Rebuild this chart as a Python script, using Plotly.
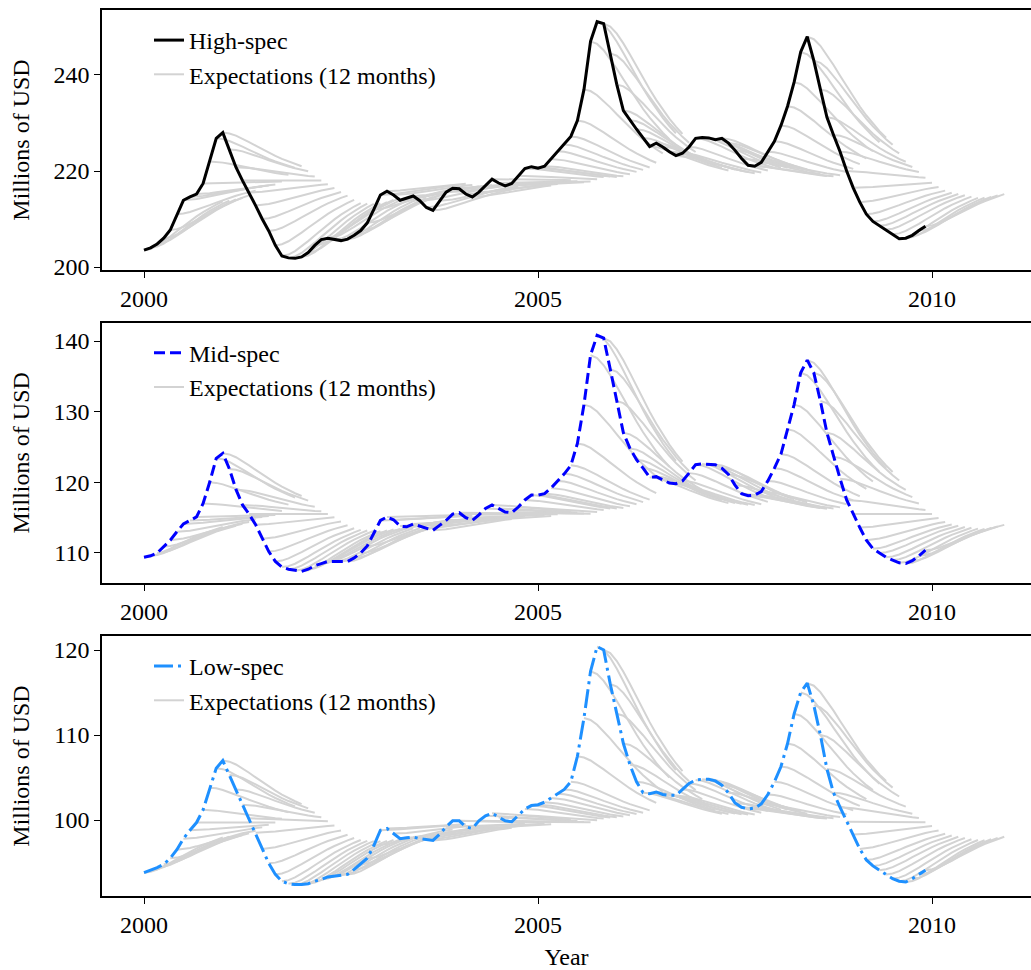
import numpy as np
import plotly.graph_objects as go

# ---------------- data (monthly, Jan 2000 .. Dec 2009) ----------------
start_year = 2000
n_months = 120
years = [start_year + m / 12 for m in range(n_months)]

high_spec = [
    203.5, 204.0, 204.8, 206.0, 207.7, 211.0, 213.9, 214.6, 215.2, 217.4, 222.0, 226.8,
    228.0, 224.5, 220.8, 218.0, 215.5, 212.8, 210.0, 207.5, 204.5, 202.3, 201.9, 201.8,
    202.1, 203.0, 204.5, 205.7, 206.0, 205.7, 205.5, 205.8, 206.6, 207.6, 209.2, 212.0,
    215.0, 215.8, 215.0, 213.9, 214.3, 214.8, 213.8, 212.4, 211.8, 213.8, 215.6, 216.4,
    216.3, 215.2, 214.6, 215.6, 216.9, 218.3, 217.5, 216.9, 217.4, 219.0, 220.5, 220.9,
    220.6, 221.0, 222.5, 224.1, 225.5, 227.2, 230.5, 237.0, 247.0, 251.1, 250.7, 244.5,
    238.0, 232.6, 230.6, 228.7, 226.9, 225.1, 225.8, 225.0, 224.0, 223.2, 223.7, 225.0,
    226.8, 227.0, 226.9, 226.5, 226.8, 225.8, 224.3, 222.6, 221.2, 221.0, 221.8, 224.0,
    226.2, 229.5, 233.5, 238.5, 244.8, 248.0, 243.0, 237.0, 231.2, 227.5, 224.0, 220.0,
    216.5, 213.5, 211.0, 209.5, 208.6, 207.8, 206.8, 205.9, 206.0, 206.6, 207.6, 208.5,
]

mid_spec = [
    109.4, 109.6, 110.0, 110.9, 111.8, 113.0, 114.1, 114.6, 115.1, 117.0, 120.0, 123.4,
    124.1, 121.9, 119.0, 116.8, 115.5, 114.0, 112.0, 110.2, 108.8, 108.0, 107.7, 107.5,
    107.4, 107.7, 108.2, 108.5, 108.8, 108.8, 108.8, 108.8, 109.3, 110.0, 111.0, 112.8,
    114.6, 115.1, 114.7, 113.8, 113.7, 114.1, 113.8, 113.5, 113.2, 113.9, 114.6, 115.5,
    115.7, 115.0, 114.6, 115.4, 116.3, 116.8, 116.3, 115.8, 115.7, 116.5, 117.5, 118.2,
    118.2, 118.4, 119.2, 120.2, 121.2, 122.4, 125.5, 131.0, 138.0, 140.8, 140.4, 136.0,
    131.5, 127.0, 124.8, 123.2, 122.0, 120.7, 120.8, 120.4, 119.9, 119.8, 120.2, 121.3,
    122.5, 122.6, 122.5, 122.5, 122.0, 121.1, 119.6, 118.4, 118.1, 118.2, 118.7, 120.2,
    122.0, 124.0, 127.5, 131.0, 135.5, 137.3, 135.5, 131.5, 127.0, 123.6, 120.5, 117.5,
    115.5, 113.6, 111.8, 110.6, 110.0, 109.4, 109.0, 108.6, 108.5, 108.9, 109.6, 110.4,
]

low_spec = [
    93.8, 94.1, 94.4, 94.8, 95.5, 96.5, 97.8, 98.8, 99.7, 101.2, 103.8, 106.1,
    107.0, 105.3, 103.6, 101.8, 100.2, 98.5, 96.6, 94.9, 93.6, 92.8, 92.5, 92.4,
    92.4, 92.5, 92.8, 93.0, 93.3, 93.4, 93.5, 93.6, 94.2, 94.8, 95.5, 97.0,
    98.8, 99.0, 98.4, 97.8, 97.9, 98.0, 97.8, 97.7, 97.6, 98.3, 99.2, 99.9,
    99.9, 99.2, 99.0, 99.9, 100.5, 100.8, 100.3, 99.9, 99.8, 100.6, 101.3, 101.7,
    101.8, 102.1, 102.6, 103.1, 103.6, 104.5, 107.5, 112.0, 117.5, 120.4, 120.0, 116.0,
    112.5, 109.0, 106.5, 104.5, 103.2, 103.1, 103.3, 103.0, 102.9, 102.9, 103.6, 104.3,
    104.7, 104.8, 104.8, 104.6, 104.1, 103.2, 102.0, 101.5, 101.3, 101.4, 101.9, 103.0,
    104.5, 106.3, 109.0, 112.5, 115.0, 116.1, 113.5, 110.0, 106.0, 103.2, 101.5, 99.8,
    98.3, 96.6, 95.3, 94.6, 94.1, 93.6, 93.1, 92.8, 92.7, 93.1, 93.6, 94.1,
]

series_names = ["High-spec", "Mid-spec", "Low-spec"]
# long-run levels the 12-month expectations revert to
long_run_levels = [218.0, 115.5, 99.7]
horizon_months = 12
reversion_tau = 4.9  # months

y_ticks = [[200, 220, 240], [110, 120, 130, 140], [100, 110, 120]]
x_ticks = [2000, 2005, 2010]

# ---------------- styling ----------------
line_colors = ["black", "#0000ff", "#1e90ff"]
line_dashes = ["solid", "11px,5px", "19px,5px,3px,5px"]
grey = "#d3d3d3"
FONT = "Liberation Serif, Times New Roman, serif"
FS = 24

W, H = 1031, 970
ML, MR, MT, MB = 102, 0, 10, 74
plot_h = H - MT - MB
panels_px = [(10, 270), (322.7, 583), (636, 896)]  # top, bottom (px)
y_ranges = [[199.375, 253.54], [105.75, 142.59], [91.06, 121.65]]
x_range = [1999.467, 2011.256]


def expectation_paths(values, mu):
    xs, ys = [], []
    for t, v in enumerate(values):
        for h in range(horizon_months + 1):
            xs.append(start_year + (t + h) / 12)
            ys.append(mu + (v - mu) * (1 + h / reversion_tau) * np.exp(-h / reversion_tau))
        xs.append(None)
        ys.append(None)
    return xs, ys


fig = go.Figure()
all_series = [high_spec, mid_spec, low_spec]
for i, (name, vals) in enumerate(zip(series_names, all_series)):
    ax = "" if i == 0 else str(i + 1)
    lg = "legend" if i == 0 else f"legend{i + 1}"
    ex, ey = expectation_paths(vals, long_run_levels[i])
    fig.add_trace(go.Scatter(
        x=ex, y=ey, mode="lines", name="Expectations (12 months)",
        line=dict(color=grey, width=2), connectgaps=False,
        xaxis="x" + ax, yaxis="y" + ax, legend=lg, legendrank=2,
        hoverinfo="skip"))
    fig.add_trace(go.Scatter(
        x=years, y=vals, mode="lines", name=name,
        line=dict(color=line_colors[i], width=3, dash=line_dashes[i]),
        xaxis="x" + ax, yaxis="y" + ax, legend=lg, legendrank=1))

layout = dict(
    width=W, height=H,
    margin=dict(l=ML, r=MR, t=MT, b=MB, pad=0),
    paper_bgcolor="white", plot_bgcolor="white",
    font=dict(family=FONT, size=FS, color="black"),
    showlegend=True,
)

for i in range(3):
    top_px, bot_px = panels_px[i]
    d0 = (H - MB - bot_px) / plot_h
    d1 = (H - MB - top_px) / plot_h
    ax = "" if i == 0 else str(i + 1)
    xa = dict(
        domain=[0, 1], range=x_range, anchor="y" + ax,
        tickvals=x_ticks, ticktext=[str(v) for v in x_ticks],
        ticks="outside", ticklen=6, tickwidth=1.3, tickcolor="black",
        showline=True, linecolor="black", linewidth=1.5, mirror=True,
        showgrid=False, zeroline=False,
        tickfont=dict(family=FONT, size=FS, color="black"),
    )
    if i == 2:
        xa["title"] = dict(text="Year", font=dict(family=FONT, size=FS, color="black"), standoff=13)
    ya = dict(
        domain=[d0, d1], range=y_ranges[i], anchor="x" + ax,
        tickvals=y_ticks[i], ticks="outside", ticklen=6, tickwidth=1.3, tickcolor="black",
        showline=True, linecolor="black", linewidth=1.5, mirror=False,
        showgrid=False, zeroline=False,
        tickfont=dict(family=FONT, size=FS, color="black"),
        title=dict(text="Millions of USD", font=dict(family=FONT, size=FS, color="black"), standoff=17),
    )
    layout["xaxis" + ax] = xa
    layout["yaxis" + ax] = ya
    lg = "legend" if i == 0 else f"legend{i + 1}"
    layout[lg] = dict(
        x=0.0506, xanchor="left", y=d1 - 8 / plot_h, yanchor="top",
        bgcolor="rgba(255,255,255,0)", borderwidth=0,
        font=dict(family=FONT, size=FS, color="black"),
        traceorder="normal", tracegroupgap=0,
    )

fig.update_layout(**layout)
fig.write_html("out.html")
